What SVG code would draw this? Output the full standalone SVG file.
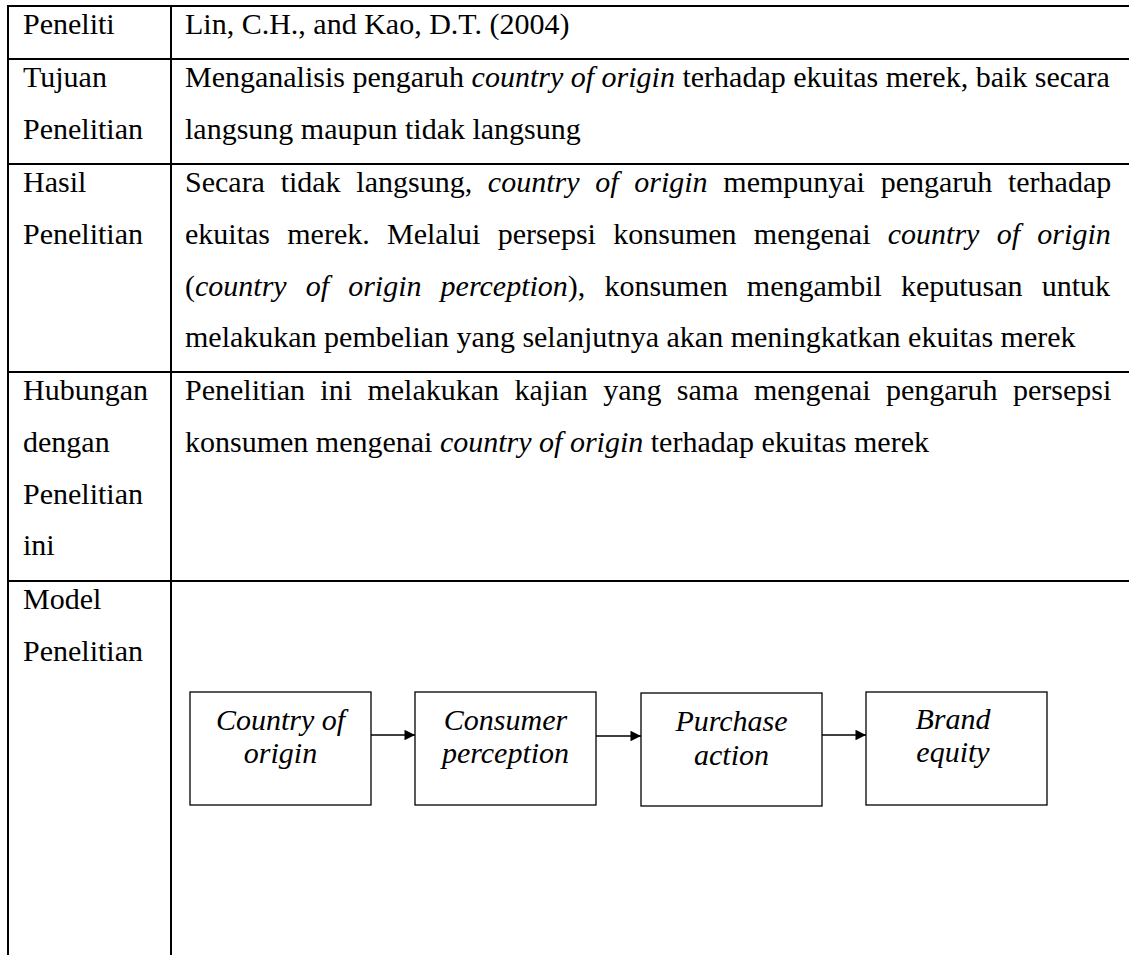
<svg xmlns="http://www.w3.org/2000/svg" width="1129" height="955" viewBox="0 0 1129 955">
  <style>
    .t { font-family: "Liberation Serif", "Times New Roman", serif; font-size: 30px; fill: #000; }
    .i { font-style: italic; }
    .grid { stroke: #000; stroke-width: 2; fill: none; }
    .box { stroke: #000; stroke-width: 1.3; fill: #fff; }
    .edge { stroke: #000; stroke-width: 1.5; fill: none; }
  </style>
  <defs>
    <marker id="arrow" viewBox="0 0 10 10" refX="10" refY="5" markerWidth="9" markerHeight="7" markerUnits="strokeWidth" orient="auto">
      <path d="M0,0 L10,5 L0,10 Z" fill="#000"/>
    </marker>
  </defs>
  <rect width="1129" height="955" fill="#fff"/>

  <!-- table rules: open at the right and bottom -->
  <g id="table-grid" class="grid">
    <line x1="7" y1="6" x2="1129" y2="6"/>
    <line x1="7" y1="59" x2="1129" y2="59"/>
    <line x1="7" y1="164" x2="1129" y2="164"/>
    <line x1="7" y1="372" x2="1129" y2="372"/>
    <line x1="7" y1="581" x2="1129" y2="581"/>
    <line x1="8" y1="5" x2="8" y2="955"/>
    <line x1="171" y1="5" x2="171" y2="955"/>
  </g>

  <!-- row labels -->
  <g id="labels" class="t">
    <text x="23" y="34">Peneliti</text>
    <text x="23" y="87">Tujuan</text>
    <text x="23" y="139">Penelitian</text>
    <text x="23" y="192">Hasil</text>
    <text x="23" y="244">Penelitian</text>
    <text x="23" y="400">Hubungan</text>
    <text x="23" y="452">dengan</text>
    <text x="23" y="504">Penelitian</text>
    <text x="23" y="555">ini</text>
    <text x="23" y="609">Model</text>
    <text x="23" y="661">Penelitian</text>
  </g>

  <!-- row contents (justified lines use word-spacing) -->
  <g id="row-peneliti" class="t">
    <text x="185" y="34">Lin, C.H., and Kao, D.T. (2004)</text>
  </g>
  <g id="row-tujuan" class="t">
    <text x="185" y="87">Menganalisis pengaruh <tspan class="i">country of origin</tspan> terhadap ekuitas merek, baik secara</text>
    <text x="185" y="139">langsung maupun tidak langsung</text>
  </g>
  <g id="row-hasil" class="t">
    <text x="185" y="192" style="word-spacing:8.2px">Secara tidak langsung, <tspan class="i">country of origin</tspan> mempunyai pengaruh terhadap</text>
    <text x="185" y="244" style="word-spacing:9.8px">ekuitas merek. Melalui persepsi konsumen mengenai <tspan class="i">country of origin</tspan></text>
    <text x="185" y="296" style="word-spacing:11.6px">(<tspan class="i">country of origin perception</tspan>), konsumen mengambil keputusan untuk</text>
    <text x="185" y="347">melakukan pembelian yang selanjutnya akan meningkatkan ekuitas merek</text>
  </g>
  <g id="row-hubungan" class="t">
    <text x="185" y="400" style="word-spacing:7.9px">Penelitian ini melakukan kajian yang sama mengenai pengaruh persepsi</text>
    <text x="185" y="452">konsumen mengenai <tspan class="i">country of origin</tspan> terhadap ekuitas merek</text>
  </g>

  <!-- research model: four boxes in a chain -->
  <g id="node-country-of-origin">
    <rect class="box" x="190" y="692" width="181" height="113"/>
    <text class="t i" x="280.5" y="730" text-anchor="middle">Country of</text>
    <text class="t i" x="280.5" y="763" text-anchor="middle">origin</text>
  </g>
  <g id="node-consumer-perception">
    <rect class="box" x="415" y="692" width="181" height="113"/>
    <text class="t i" x="505.5" y="730" text-anchor="middle">Consumer</text>
    <text class="t i" x="505.5" y="763" text-anchor="middle">perception</text>
  </g>
  <g id="node-purchase-action">
    <rect class="box" x="641" y="693" width="181" height="113"/>
    <text class="t i" x="731.5" y="731" text-anchor="middle">Purchase</text>
    <text class="t i" x="731.5" y="765" text-anchor="middle">action</text>
  </g>
  <g id="node-brand-equity">
    <rect class="box" x="866" y="692" width="181" height="113"/>
    <text class="t i" x="953" y="729" text-anchor="middle">Brand</text>
    <text class="t i" x="953" y="762" text-anchor="middle">equity</text>
  </g>

  <g id="connectors" class="edge">
    <line x1="371" y1="735" x2="415" y2="735" marker-end="url(#arrow)"/>
    <line x1="596" y1="736" x2="641" y2="736" marker-end="url(#arrow)"/>
    <line x1="822" y1="735" x2="866" y2="735" marker-end="url(#arrow)"/>
  </g>
</svg>
